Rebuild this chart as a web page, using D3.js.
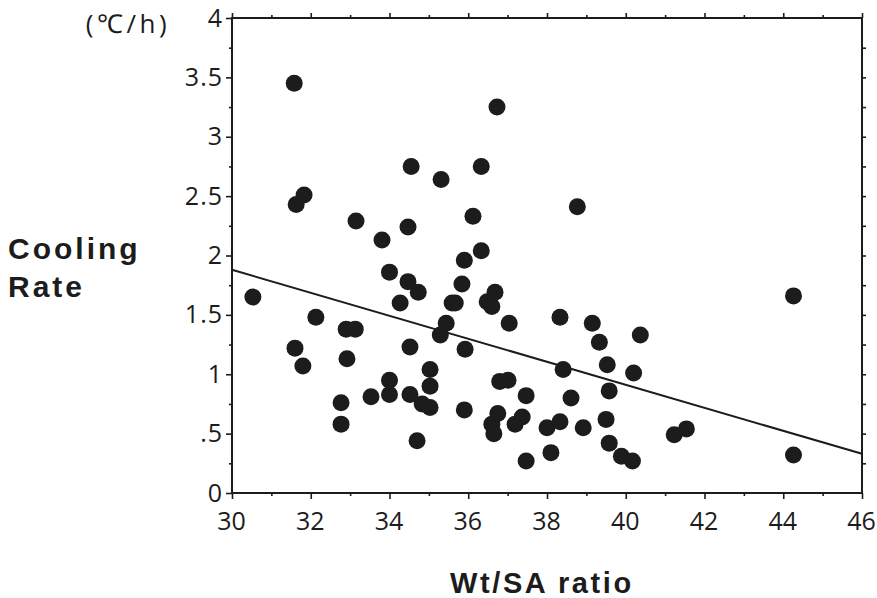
<!DOCTYPE html>
<html><head><meta charset="utf-8">
<script src="https://cdn.jsdelivr.net/npm/d3@7"></script>
<style>body{margin:0;background:#fff}svg{display:block}</style>
</head><body>
<svg id="c" width="877" height="598"></svg>
<script>
const wtSA = [30.53,31.58,31.63,31.83,31.6,31.8,32.13,33.15,32.77,32.77,32.9,33.13,32.92,33.53,33.81,34.0,34.0,34.0,34.27,34.47,34.47,34.52,34.52,34.55,34.73,34.7,34.83,35.03,35.03,35.03,35.31,35.29,35.44,35.59,35.67,35.84,35.9,35.92,35.9,36.12,36.33,36.33,36.48,36.6,36.68,36.73,36.6,36.65,36.75,36.8,37.01,37.04,37.19,37.37,37.47,37.47,38.0,38.1,38.33,38.33,38.41,38.61,38.77,38.92,39.15,39.33,39.53,39.58,39.5,39.58,39.89,40.17,40.2,40.37,41.23,41.54,44.26,44.26];
const coolingRate = [1.65,3.45,2.43,2.51,1.22,1.07,1.48,2.29,0.76,0.58,1.38,1.38,1.13,0.81,2.13,1.86,0.95,0.83,1.6,2.24,1.78,1.23,0.83,2.75,1.69,0.44,0.75,1.04,0.9,0.72,2.64,1.33,1.43,1.6,1.6,1.76,1.96,1.21,0.7,2.33,2.04,2.75,1.61,1.57,1.69,3.25,0.58,0.5,0.67,0.94,0.95,1.43,0.58,0.64,0.82,0.27,0.55,0.34,0.6,1.48,1.04,0.8,2.41,0.55,1.43,1.27,1.08,0.86,0.62,0.42,0.31,0.27,1.01,1.33,0.49,0.54,1.66,0.32];
const fitX = [30, 46];
const fitY = [1.88, 0.33];
const xTicks = [30,32,34,36,38,40,42,44,46];
const yTicks = [0,0.5,1,1.5,2,2.5,3,3.5,4];
const yTickLabels = ["0",".5","1","1.5","2","2.5","3","3.5","4"];

const svg = d3.select("#c");
const L=232, R=862, T=18, B=493;
const x = d3.scaleLinear().domain([30,46]).range([L,R]);
const y = d3.scaleLinear().domain([0,4]).range([B,T]);
const ink = "#1c1c1c";

// points
svg.append("g").selectAll("circle").data(wtSA.map((v,i)=>[v,coolingRate[i]]))
  .join("circle").attr("cx",d=>x(d[0])).attr("cy",d=>y(d[1])).attr("r",8.5).attr("fill",ink);

// regression line
svg.append("line").attr("x1",x(fitX[0])).attr("y1",y(fitY[0])).attr("x2",x(fitX[1])).attr("y2",y(fitY[1]))
  .attr("stroke",ink).attr("stroke-width",2);

// frame
svg.append("rect").attr("x",L).attr("y",T).attr("width",R-L).attr("height",B-T)
  .attr("fill","none").attr("stroke",ink).attr("stroke-width",2);

// bottom axis
const bx = svg.append("g").attr("transform",`translate(0,${B})`)
  .call(d3.axisBottom(x).tickValues(xTicks).tickFormat(d3.format("d")).tickSize(6).tickSizeOuter(0));
svg.append("g").attr("transform",`translate(0,${B})`)
  .call(d3.axisBottom(x).tickValues(d3.range(31,46,2)).tickFormat("").tickSize(3).tickSizeOuter(0));
// top axis
svg.append("g").attr("transform",`translate(0,${T})`)
  .call(d3.axisTop(x).tickValues(xTicks).tickFormat("").tickSize(5).tickSizeOuter(0));
svg.append("g").attr("transform",`translate(0,${T})`)
  .call(d3.axisTop(x).tickValues(d3.range(31,46,2)).tickFormat("").tickSize(3).tickSizeOuter(0));
// left axis
const ly = svg.append("g").attr("transform",`translate(${L},0)`)
  .call(d3.axisLeft(y).tickValues(yTicks).tickFormat((d,i)=>yTickLabels[i]).tickSize(6).tickSizeOuter(0));
svg.append("g").attr("transform",`translate(${L},0)`)
  .call(d3.axisLeft(y).tickValues(d3.range(0.25,4,0.5)).tickFormat("").tickSize(3).tickSizeOuter(0));
// right axis
svg.append("g").attr("transform",`translate(${R},0)`)
  .call(d3.axisRight(y).tickValues(d3.range(0.25,4,0.25)).tickFormat("").tickSize(4).tickSizeOuter(0));

svg.selectAll(".domain").remove();
svg.selectAll(".tick line").attr("stroke",ink).attr("stroke-width",1.6);
bx.selectAll("text").attr("font-family","Open Sans, sans-serif").attr("font-size",25).attr("fill",ink)
  .attr("y",37).attr("dy",0).attr("x",-1);
ly.selectAll("text").attr("font-family","Open Sans, sans-serif").attr("font-size",25).attr("fill",ink)
  .attr("x",-9).attr("dy","0.32em").attr("letter-spacing",1);

// titles
svg.append("text").attr("x",128).attr("y",33).attr("text-anchor","middle")
  .attr("font-family","Open Sans, sans-serif").attr("font-size",26).attr("letter-spacing",3.5).attr("fill",ink).text("(℃/h)");
svg.append("text").attr("x",8).attr("y",259)
  .attr("font-family","Liberation Sans, Arial, sans-serif").attr("font-weight","bold").attr("font-size",30)
  .attr("letter-spacing",3).attr("fill",ink).text("Cooling");
svg.append("text").attr("x",8).attr("y",297)
  .attr("font-family","Liberation Sans, Arial, sans-serif").attr("font-weight","bold").attr("font-size",30)
  .attr("letter-spacing",3).attr("fill",ink).text("Rate");
svg.append("text").attr("x",450).attr("y",593)
  .attr("font-family","Liberation Sans, Arial, sans-serif").attr("font-weight","bold").attr("font-size",29)
  .attr("letter-spacing",2.6).attr("fill",ink).text("Wt/SA ratio");
</script>
</body></html>
